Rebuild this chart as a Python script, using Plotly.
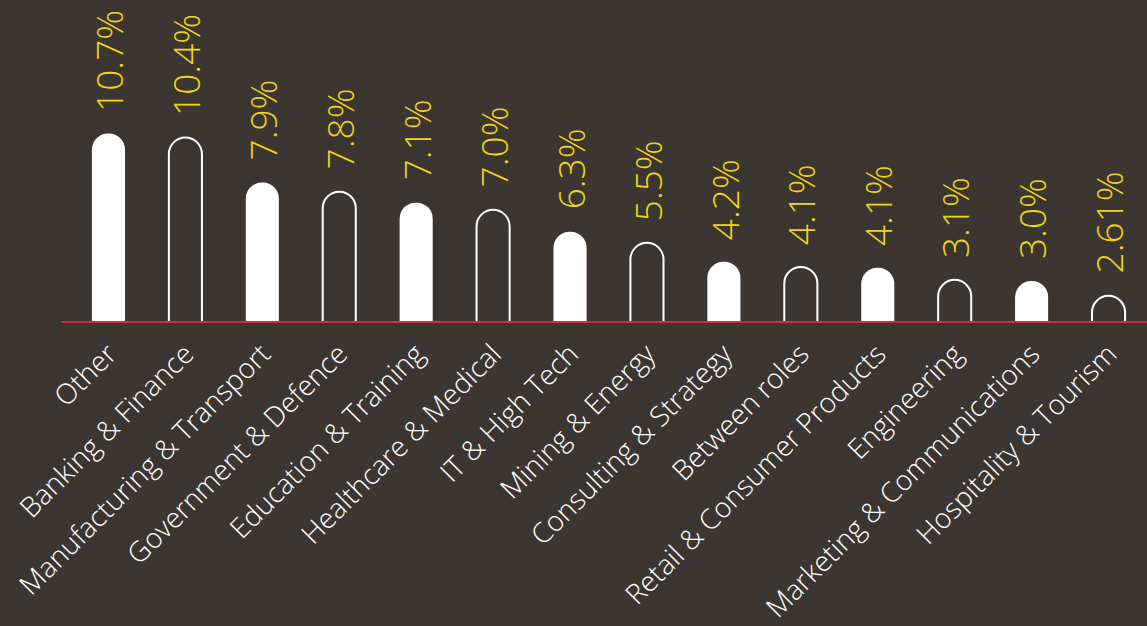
import plotly.graph_objects as go

categories = ["Other", "Banking & Finance", "Manufacturing & Transport", "Government & Defence",
              "Education & Training", "Healthcare & Medical", "IT & High Tech", "Mining & Energy",
              "Consulting & Strategy", "Between roles", "Retail & Consumer Products", "Engineering",
              "Marketing & Communications", "Hospitality & Tourism"]
# bar heights as drawn in the picture (percent units)
bar_values = [10.68, 10.45, 7.91, 7.40, 6.78, 6.38, 5.14, 4.52, 3.45, 3.16, 3.11, 2.43, 2.37, 1.53]
# value labels as printed
value_labels = ["10.7%", "10.4%", "7.9%", "7.8%", "7.1%", "7.0%", "6.3%", "5.5%", "4.2%",
                "4.1%", "4.1%", "3.1%", "3.0%", "2.61%"]

BG = "#3c3633"
WHITE = "#ffffff"
YELLOW = "#f0d418"
RED = "#d22f3b"

filled = [i % 2 == 0 for i in range(len(categories))]

fig = go.Figure()
fig.add_trace(go.Bar(
    x=categories,
    y=bar_values,
    width=0.43,
    marker=dict(
        color=[WHITE if f else BG for f in filled],
        line=dict(color=WHITE, width=[0 if f else 2 for f in filled]),
        cornerradius=17,
    ),
    hoverinfo="skip",
))

for c, v, t in zip(categories, bar_values, value_labels):
    fig.add_annotation(x=c, y=v, text=t, textangle=-90, showarrow=False,
                       yanchor="bottom", xanchor="center", yshift=20,
                       font=dict(family="Open Sans", size=37, color=YELLOW, weight=300))

fig.add_shape(type="line", xref="paper", yref="y", x0=-0.008, x1=1.0, y0=0, y1=0,
              line=dict(color=RED, width=4), layer="above")

fig.update_layout(
    width=1147, height=626,
    margin=dict(l=70, r=0, t=0, b=303),
    paper_bgcolor=BG, plot_bgcolor=BG,
    showlegend=False,
    bargap=0.56,
    xaxis=dict(tickangle=-45, tickfont=dict(family="Open Sans", size=28, color=WHITE, weight=300),
               showgrid=False, zeroline=False, showline=False, ticks="",
               ticklabelstandoff=8),
    yaxis=dict(range=[0, 18.2], visible=False, showgrid=False, zeroline=False),
)

fig.write_html("out.html")
